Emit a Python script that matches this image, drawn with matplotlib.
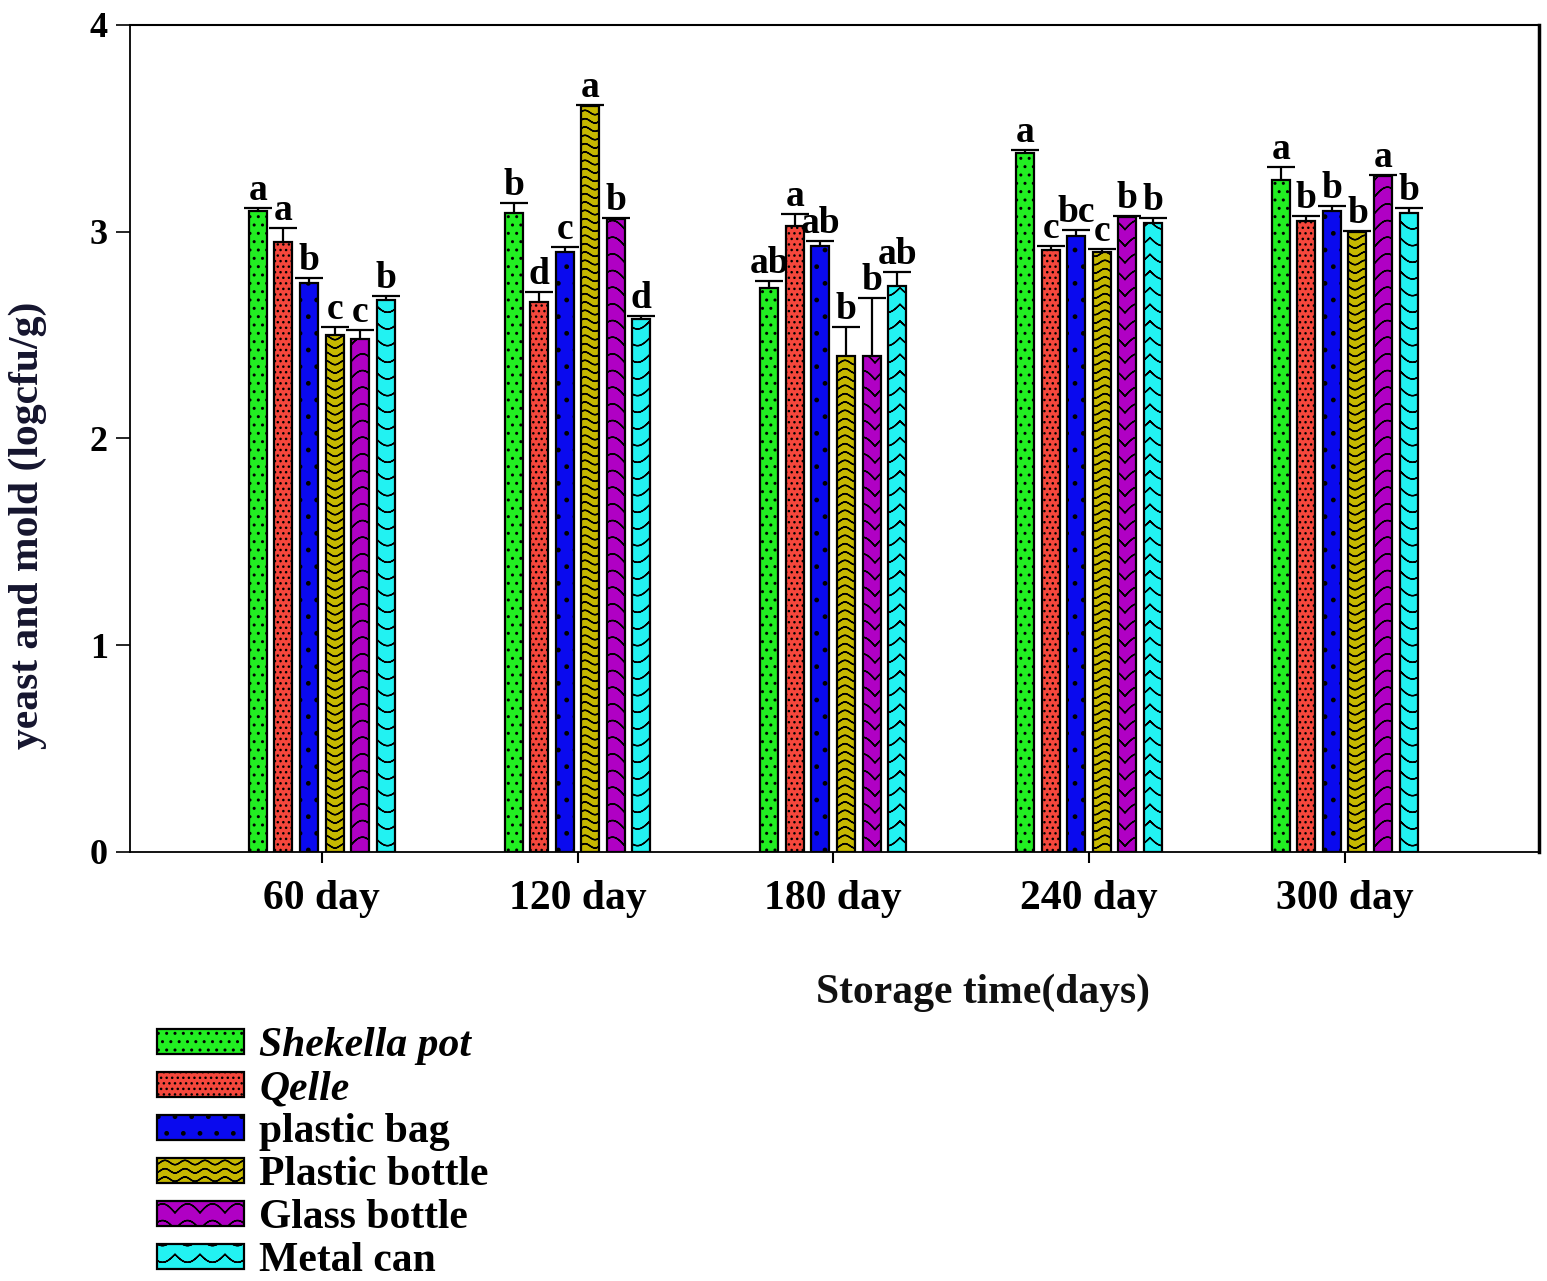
import numpy as np
import matplotlib
matplotlib.use("Agg")
import matplotlib.pyplot as plt
import matplotlib.hatch as mhatch
from matplotlib.path import Path

# ---------------- data ----------------
days = ["60 day", "120 day", "180 day", "240 day", "300 day"]
series = ["Shekella pot", "Qelle", "plastic bag", "Plastic bottle", "Glass bottle", "Metal can"]

shekella = [3.10, 3.09, 2.73, 3.38, 3.25]
qelle = [2.95, 2.66, 3.03, 2.91, 3.05]
plastic_bag = [2.75, 2.90, 2.93, 2.98, 3.10]
plastic_bottle = [2.50, 3.61, 2.40, 2.90, 3.00]
glass_bottle = [2.48, 3.06, 2.40, 3.07, 3.27]
metal_can = [2.67, 2.58, 2.74, 3.04, 3.09]

shekella_err = [0.015, 0.05, 0.03, 0.013, 0.065]
qelle_err = [0.07, 0.05, 0.055, 0.02, 0.024]
plastic_bag_err = [0.026, 0.027, 0.024, 0.03, 0.023]
plastic_bottle_err = [0.04, 0.005, 0.14, 0.018, 0.005]
glass_bottle_err = [0.043, 0.005, 0.28, 0.005, 0.005]
metal_can_err = [0.018, 0.012, 0.064, 0.028, 0.026]

shekella_lab = ["a", "b", "ab", "a", "a"]
qelle_lab = ["a", "d", "a", "c", "b"]
plastic_bag_lab = ["b", "c", "ab", "bc", "b"]
plastic_bottle_lab = ["c", "a", "b", "c", "b"]
glass_bottle_lab = ["c", "b", "b", "b", "a"]
metal_can_lab = ["b", "d", "ab", "b", "b"]

values = [shekella, qelle, plastic_bag, plastic_bottle, glass_bottle, metal_can]
errors = [shekella_err, qelle_err, plastic_bag_err, plastic_bottle_err, glass_bottle_err, metal_can_err]
letters = [shekella_lab, qelle_lab, plastic_bag_lab, plastic_bottle_lab, glass_bottle_lab, metal_can_lab]

colors = ["#22ee22", "#f5473c", "#0a0aee", "#c6b800", "#b000c4", "#22f2f2"]
hatches = ["..", "...", ".", "**", "O", "o"]


# ---------------- custom hatch patterns (open curves, traced there and back) ----------------
class _CurveHatch(mhatch.HatchPatternBase):
    char = "*"
    periods = 5
    amp = 0.022
    nseg = 60
    mode = "sin"

    def __init__(self, hatch, density):
        self.num_lines = int(hatch.count(self.char) * density)
        self.num_vertices = self.num_lines * 2 * (self.nseg + 1)

    def curve(self, xs):
        if self.mode == "sin":
            return self.amp * np.sin(2 * np.pi * self.periods * xs)
        elif self.mode == "arc":
            return self.amp * (np.abs(np.sin(np.pi * self.periods * xs)) - 0.5)
        else:
            return -self.amp * (np.abs(np.sin(np.pi * self.periods * xs)) - 0.5)

    def set_vertices_and_codes(self, vertices, codes):
        steps, stepsize = np.linspace(0.0, 1.0, self.num_lines, False, retstep=True)
        steps += stepsize / 2.0
        xs = np.linspace(0.0, 1.0, self.nseg + 1)
        xs2 = np.concatenate([xs, xs[::-1]])
        n = len(xs2)
        for i, y0 in enumerate(steps):
            sl = slice(i * n, (i + 1) * n)
            vertices[sl, 0] = xs2
            vertices[sl, 1] = y0 + self.curve(xs2)
            codes[sl] = Path.LINETO
            codes[i * n] = Path.MOVETO


class WaveHatch(_CurveHatch):
    char = "*"
    periods = 5
    amp = 0.022
    mode = "sin"


class ScallopHatch(_CurveHatch):
    char = "O"
    periods = 4
    amp = 0.09
    mode = "arc"


class ScallopHatch2(_CurveHatch):
    char = "o"
    periods = 4
    amp = 0.08
    mode = "arc2"


_removed = {"SmallCircles", "LargeCircles", "Stars"}
mhatch._hatch_types = [h for h in mhatch._hatch_types if h.__name__ not in _removed] + \
    [WaveHatch, ScallopHatch, ScallopHatch2]

plt.rcParams["hatch.linewidth"] = 1.0
plt.rcParams["font.family"] = ["Liberation Serif", "DejaVu Serif"]
plt.rcParams["font.weight"] = "bold"

# ---------------- figure ----------------
fig = plt.figure(figsize=(15.47, 12.81), dpi=100)
ax = fig.add_axes([130 / 1547, 1 - 852 / 1281, (1539 - 130) / 1547, (852 - 25) / 1281])

x = np.arange(len(days))
width = 0.07
pitch = 0.1
bars = []
for i, (vals, errs, labs) in enumerate(zip(values, errors, letters)):
    xi = x + (i - 2.5) * pitch
    b = ax.bar(xi, vals, width=width, color=colors[i], edgecolor="black",
               linewidth=1.6, hatch=hatches[i], label=series[i], zorder=2)
    bars.append(b)
    eb = ax.errorbar(xi, vals, yerr=[np.zeros(len(vals)), errs], fmt="none",
                     ecolor="black", elinewidth=1.6, capsize=10, capthick=1.6, zorder=3)
    caps = eb.lines[1]
    if len(caps) > 1:
        caps[0].set_visible(False)
    for xv, v, e, lab in zip(xi, vals, errs, labs):
        ax.annotate(lab, (xv, v + e), xytext=(0, 0), textcoords="offset points",
                    ha="center", va="bottom", fontsize=27, fontweight="bold")

ax.set_xlim(-0.75, 4.76)
ax.set_ylim(0, 4)
ax.set_yticks([0, 1, 2, 3, 4])
ax.set_xticks(x)
ax.set_xticklabels(days)
ax.tick_params(axis="y", direction="out", length=10, width=1.2, labelsize=26, pad=6)
ax.tick_params(axis="x", direction="out", length=8, width=1.5, labelsize=30, pad=12)
for lab in ax.get_xticklabels() + ax.get_yticklabels():
    lab.set_fontweight("bold")

for s in ["left", "bottom"]:
    ax.spines[s].set_linewidth(1.3)
ax.spines["top"].set_linewidth(1.5)
ax.spines["right"].set_linewidth(2.5)

fig.text(28 / 1547, 1 - 525 / 1281, "yeast and mold (logcfu/g)", rotation=90,
         ha="center", va="center", fontsize=30, fontweight="bold", color="#15152e")
fig.text(983 / 1547, 1 - 993 / 1281, "Storage time(days)", ha="center", va="center",
         fontsize=30, fontweight="bold", color="#111111")

leg = fig.legend(handles=bars, labels=series, loc="upper left",
                 bbox_to_anchor=(157 / 1547, 1 - 1027 / 1281), frameon=False,
                 fontsize=30, handlelength=2.09, handleheight=0.53,
                 handletextpad=0.36, labelspacing=0.12, borderpad=0, borderaxespad=0)
for t in leg.get_texts()[:2]:
    t.set_fontstyle("italic")
for t in leg.get_texts():
    t.set_fontweight("bold")

fig.savefig("out.png", dpi=100)
